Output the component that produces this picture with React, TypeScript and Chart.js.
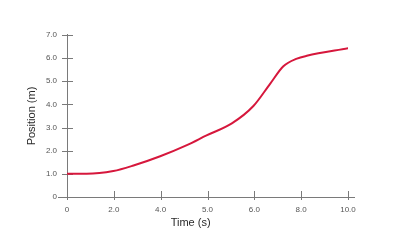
import React, { useEffect, useRef } from "react";
import { Chart, registerables } from "chart.js";

Chart.register(...registerables);

// x positions are in tick-index units (ticks are evenly spaced)
const xTickLabels = ["0", "2.0", "4.0", "5.0", "6.0", "8.0", "10.0"];
const yTickMax = 7;
const curveX = [0, 0.42, 0.99, 1.42, 1.99, 2.56, 2.98, 3.52, 3.98, 4.34, 4.62, 4.91, 5.12, 6.01];
const curveY = [1.0, 1.0, 1.12, 1.36, 1.76, 2.24, 2.66, 3.18, 3.93, 4.9, 5.65, 5.98, 6.1, 6.43];
const xTitle = "Time (s)";
const yTitle = "Position (m)";

export default function App() {
  const ref = useRef<HTMLCanvasElement | null>(null);
  useEffect(() => {
    if (!ref.current) return;
    const axisPlugin = {
      id: "axisPlugin",
      beforeDatasetsDraw(chart: any) {
        const ctx = chart.ctx;
        const xs = chart.scales.x;
        const ys = chart.scales.y;
        const x0 = xs.getPixelForValue(0);
        const y0 = ys.getPixelForValue(0);
        ctx.save();
        ctx.strokeStyle = "#7a7a7a";
        ctx.lineWidth = 1;
        ctx.beginPath();
        ctx.moveTo(x0 + 0.5, ys.getPixelForValue(yTickMax) - 1);
        ctx.lineTo(x0 + 0.5, y0 + 1);
        ctx.moveTo(x0 - 9, y0 + 0.5);
        ctx.lineTo(xs.getPixelForValue(6) + 7, y0 + 0.5);
        for (let v = 0; v <= yTickMax; v++) {
          const p = Math.round(ys.getPixelForValue(v)) + 0.5;
          ctx.moveTo(x0 - 5, p);
          ctx.lineTo(x0 + 6, p);
        }
        for (let i = 0; i < xTickLabels.length; i++) {
          const p = Math.round(xs.getPixelForValue(i)) + 0.5;
          ctx.moveTo(p, y0 - 6);
          ctx.lineTo(p, y0 + 3);
        }
        ctx.stroke();
        ctx.restore();
      },
      afterDraw(chart: any) {
        const ctx = chart.ctx;
        const xs = chart.scales.x;
        const ys = chart.scales.y;
        ctx.save();
        ctx.fillStyle = "#2a2a2a";
        ctx.font = "11px 'Liberation Sans', Arial, sans-serif";
        ctx.textAlign = "center";
        ctx.textBaseline = "middle";
        ctx.fillText(xTitle, xs.getPixelForValue(2.64), ys.getPixelForValue(0) + 26);
        ctx.restore();
      },
    };
    const chart = new Chart(ref.current, {
      type: "line",
      data: {
        datasets: [
          {
            data: curveX.map((x, i) => ({ x, y: curveY[i] })),
            borderColor: "#d6173c",
            borderWidth: 2,
            pointRadius: 0,
            fill: false,
            cubicInterpolationMode: "monotone",
          },
        ],
      },
      options: {
        responsive: false,
        animation: false,
        layout: { padding: { left: 21, right: 68, top: 35, bottom: 0 } },
        plugins: { legend: { display: false }, tooltip: { enabled: false } },
        scales: {
          x: {
            type: "linear",
            min: 0,
            max: 6,
            grid: { display: false, drawTicks: false },
            border: { display: false },
            ticks: {
              stepSize: 1,
              padding: 8,
              color: "#555",
              font: { size: 8, family: "'Liberation Sans', Arial, sans-serif" },
              maxRotation: 0,
              callback: (v: any) => xTickLabels[v] ?? "",
            },
            afterFit: (s: any) => {
              s.height = 53;
            },
          },
          y: {
            min: 0,
            max: yTickMax,
            grid: { display: false, drawTicks: false },
            border: { display: false },
            ticks: {
              stepSize: 1,
              padding: 10,
              color: "#555",
              font: { size: 8, family: "'Liberation Sans', Arial, sans-serif" },
              callback: (v: any) => (v === 0 ? "0" : Number(v).toFixed(1)),
            },
            title: {
              display: true,
              text: yTitle,
              color: "#2a2a2a",
              font: { size: 11, family: "'Liberation Sans', Arial, sans-serif" },
              padding: { top: 4, bottom: 4 },
            },
            afterFit: (s: any) => {
              s.width = 46;
            },
          },
        },
      },
      plugins: [axisPlugin],
    } as any);
    return () => chart.destroy();
  }, []);
  return (
    <div style={{ position: "fixed", left: 0, top: 0, width: 416, height: 250, background: "#fff" }}>
      <canvas ref={ref} width={416} height={250} style={{ width: 416, height: 250 }} />
    </div>
  );
}
